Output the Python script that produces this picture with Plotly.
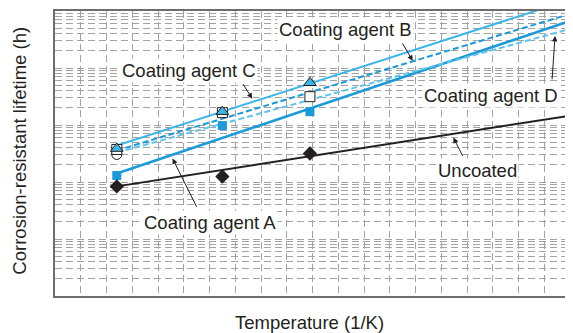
import plotly.graph_objects as go

# ---- data ----
x_points = [2.4, 6.5, 9.9]
line_x = [2.4, 20.0]

coat_c_line = [436, 157000]
coat_b_line = [357, 88700]
coat_d_line = [329, 48400]
coat_a_line = [141, 66900]
uncoated_line = [83.8, 1460]

coat_c_pts = [386, 1714, 5510]
coat_b_pts = [372, 1647, 3140]
coat_d_pts = [304]
coat_a_pts = [130, 977, 1714]
uncoated_pts = [83.8, 125, 316]

decades = [1, 10, 100, 1000, 10000]

LIGHT = "#3cb6e8"
MID = "#1a9ad9"
DARK = "#231f20"

fig = go.Figure()

# lines
fig.add_trace(go.Scatter(x=line_x, y=uncoated_line, mode="lines", line=dict(color=DARK, width=2)))
fig.add_trace(go.Scatter(x=line_x, y=coat_a_line, mode="lines", line=dict(color=MID, width=2.5)))
fig.add_trace(go.Scatter(x=line_x, y=coat_d_line, mode="lines", line=dict(color="#5cc4ef", width=2, dash="6px,3px")))
fig.add_trace(go.Scatter(x=line_x, y=coat_b_line, mode="lines", line=dict(color=MID, width=2, dash="6px,3px")))
fig.add_trace(go.Scatter(x=line_x, y=coat_c_line, mode="lines", line=dict(color=LIGHT, width=2)))

# markers
fig.add_trace(go.Scatter(x=x_points[:len(coat_d_pts)], y=coat_d_pts, mode="markers",
                         marker=dict(symbol="circle", size=10, color="white", line=dict(color=DARK, width=1))))
fig.add_trace(go.Scatter(x=x_points, y=coat_b_pts, mode="markers",
                         marker=dict(symbol="square", size=10, color="white", line=dict(color=DARK, width=1))))
fig.add_trace(go.Scatter(x=x_points, y=coat_c_pts, mode="markers",
                         marker=dict(symbol="triangle-up", size=11, color=LIGHT, line=dict(color=DARK, width=1))))
fig.add_trace(go.Scatter(x=x_points, y=coat_a_pts, mode="markers",
                         marker=dict(symbol="square", size=9, color=MID, line=dict(width=0))))
fig.add_trace(go.Scatter(x=x_points, y=uncoated_pts, mode="markers",
                         marker=dict(symbol="diamond", size=11, color=DARK, line=dict(width=0))))

# grid positions for log axis
grid_vals = [d * k for d in decades for k in range(1, 10)] + [100000]

FONT = "Liberation Sans, Arial, sans-serif"
FS = 18.5

def label(text, x, y):
    fig.add_annotation(x=x, y=y, xref="x", yref="y", text=text, showarrow=False,
                       font=dict(family=FONT, size=FS, color=DARK), bgcolor="white", borderpad=1)

def arrow(tx, ty, hx, hy):
    fig.add_annotation(x=hx, y=hy, ax=tx, ay=ty, xref="x", yref="y", axref="x", ayref="y",
                       text="", showarrow=True, arrowhead=2, arrowsize=1.1, arrowwidth=1, arrowcolor=DARK)

label("Coating agent B", 11.30, 4.668)
label("Coating agent C", 5.22, 3.951)
label("Coating agent D", 16.94, 3.514)
label("Uncoated", 16.40, 2.203)
label("Coating agent A", 6.00, 1.294)

arrow(13.46, 4.458, 13.89, 4.126)
arrow(7.27, 3.741, 7.66, 3.462)
arrow(19.30, 3.776, 19.42, 4.563)
arrow(15.86, 2.430, 15.47, 2.780)
arrow(5.53, 1.538, 4.565, 2.413)

fig.add_annotation(x=0.495, y=-0.094, xref="paper", yref="paper", text="Temperature (1/K)",
                   xanchor="center", yanchor="middle",
                   showarrow=False, font=dict(family=FONT, size=FS, color=DARK))
fig.add_annotation(x=-0.068, y=0.51, xref="paper", yref="paper", text="Corrosion-resistant lifetime (h)",
                   xanchor="center", yanchor="middle",
                   showarrow=False, textangle=-90, font=dict(family=FONT, size=FS, color=DARK))

GRID = "#a3a3a3"
fig.update_layout(
    width=565, height=325,
    margin=dict(l=47, r=1, t=2, b=37),
    paper_bgcolor="white", plot_bgcolor="white",
    showlegend=False,
    font=dict(family=FONT),
    xaxis=dict(range=[0, 20], dtick=1, tick0=0, showticklabels=False, ticks="",
               showgrid=True, gridcolor=GRID, gridwidth=1, griddash="7px,4px",
               showline=True, linecolor="#6d6d6d", linewidth=1.5, mirror=True, zeroline=False),
    yaxis=dict(type="log", range=[0, 5], tickmode="array", tickvals=grid_vals,
               showticklabels=False, ticks="",
               showgrid=True, gridcolor=GRID, gridwidth=1, griddash="7px,4px",
               showline=True, linecolor="#6d6d6d", linewidth=1.5, mirror=True, zeroline=False),
)

fig.write_html("out.html")
